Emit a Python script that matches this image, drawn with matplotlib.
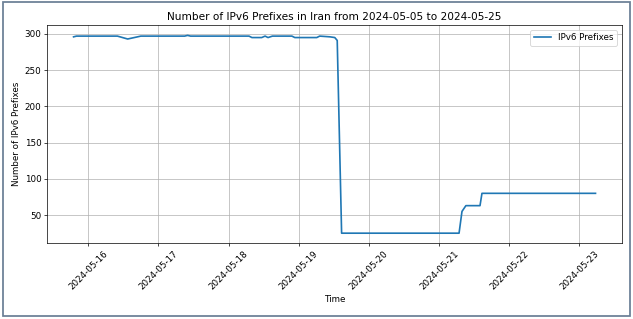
import pandas as pd
import matplotlib
matplotlib.use("Agg")
import matplotlib.pyplot as plt
from matplotlib.patches import Rectangle

# IPv6 prefix counts (timestamps where the value changes)
times = [
    "2024-05-15 19:00", "2024-05-15 20:00", "2024-05-16 10:00", "2024-05-16 13:30",
    "2024-05-16 18:00", "2024-05-17 09:00", "2024-05-17 10:00", "2024-05-17 11:00",
    "2024-05-18 07:00", "2024-05-18 08:00", "2024-05-18 11:20", "2024-05-18 12:30",
    "2024-05-18 13:30", "2024-05-18 15:00", "2024-05-18 21:40", "2024-05-18 22:40",
    "2024-05-19 06:10", "2024-05-19 07:10", "2024-05-19 10:40", "2024-05-19 12:20",
    "2024-05-19 13:10", "2024-05-19 14:40", "2024-05-21 06:50", "2024-05-21 07:50",
    "2024-05-21 09:10", "2024-05-21 14:00", "2024-05-21 14:40", "2024-05-23 05:30",
]
prefixes = [
    296, 297, 297, 293,
    297, 297, 298, 297,
    297, 295, 295, 297,
    295, 297, 297, 295,
    295, 297, 296, 295,
    291, 25, 25, 55,
    63, 63, 80, 80,
]

df = pd.DataFrame({"time": pd.to_datetime(times), "prefixes": prefixes})

fig, ax = plt.subplots(figsize=(10, 5.04), dpi=63.3)
fig.subplots_adjust(left=0.075, right=0.982, top=0.92, bottom=0.238)

ax.plot(df["time"], df["prefixes"], label="IPv6 Prefixes", linewidth=1.9)
ax.set_title("Number of IPv6 Prefixes in Iran from 2024-05-05 to 2024-05-25")
ax.set_xlabel("Time")
ax.set_ylabel("Number of IPv6 Prefixes")
ax.legend(loc="upper right")
ax.grid(True)
plt.setp(ax.get_xticklabels(), rotation=45)

# screenshot frame
fig.patches.append(Rectangle((0.004, 0.008), 0.992, 0.985, transform=fig.transFigure,
                             fill=False, edgecolor="#6b7f96", linewidth=2))

fig.savefig("out.png", dpi=63.3)
